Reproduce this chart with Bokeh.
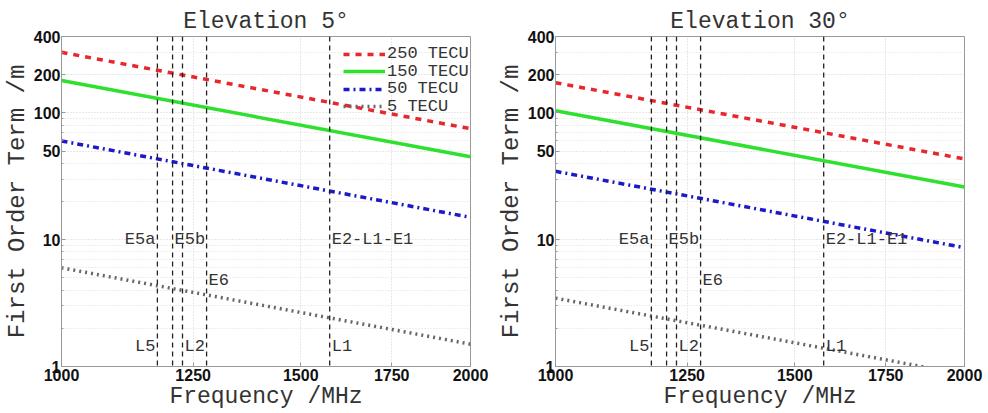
from bokeh.plotting import figure
from bokeh.layouts import row
from bokeh.models import FixedTicker, Span, Label, Legend, LegendItem
from bokeh.embed import file_html
from bokeh.resources import INLINE

# ---- data ----
freq_mhz = [1000, 2000]
series_labels = ["250 TECU", "150 TECU", "50 TECU", "5 TECU"]
el5_250 = [300, 75]
el5_150 = [180, 45]
el5_50 = [60, 15]
el5_5 = [6.0, 1.5]
el30_250 = [173, 43.3]
el30_150 = [104, 26.0]
el30_50 = [34.6, 8.65]
el30_5 = [3.46, 0.865]

band_freqs = [1176.45, 1207.14, 1227.60, 1278.75, 1575.42]
ann_text = ["E5a", "E5b", "E6", "E2-L1-E1", "L5", "L2", "L1"]
ann_freq = [1176.45, 1207.14, 1278.75, 1575.42, 1176.45, 1227.60, 1575.42]
ann_y = [10, 10, 4.8, 10, 1.45, 1.45, 1.45]
ann_side = ["left", "right", "right", "right", "left", "right", "right"]

x_ticks = [1000, 1250, 1500, 1750, 2000]
y_ticks = [1, 10, 50, 100, 200, 400]
y_minor = [2, 3, 4, 5, 6, 7, 8, 9, 20, 30, 40, 60, 70, 80, 90, 300]

colors = ["#e8262e", "#2fe02f", "#1a1ac8", "#666666"]
dashes = ["dashed", "solid", "dashdot", "dotted"]
widths = [3.5, 3.5, 3.5, 3.5]

MONO = "Liberation Mono"
SANS = "Liberation Sans"
FH = 330


def make(title, series, left_border, right_border, legend):
    p = figure(x_axis_type="log", y_axis_type="log",
               x_range=(1000, 2000), y_range=(1, 400),
               frame_width=409, frame_height=FH,
               min_border_left=left_border, min_border_right=right_border,
               min_border_top=36, min_border_bottom=0,
               output_backend="svg", toolbar_location=None, title=title)
    p.title.text_font = MONO
    p.title.text_font_size = "23px"
    p.title.text_font_style = "normal"
    p.title.align = "center"
    p.title.text_color = "#333333"
    p.title.standoff = 4

    p.xaxis.ticker = FixedTicker(ticks=x_ticks, minor_ticks=[])
    p.yaxis.ticker = FixedTicker(ticks=y_ticks, minor_ticks=y_minor)
    p.xaxis.major_label_overrides = {t: str(t) for t in x_ticks}
    p.yaxis.major_label_overrides = {t: str(t) for t in y_ticks}
    for ax in (p.xaxis, p.yaxis):
        ax.major_label_text_font = SANS
        ax.major_label_text_font_style = "bold"
        ax.major_label_text_font_size = "16px"
        ax.major_label_text_color = "#111111"
        ax.axis_label_text_font = MONO
        ax.axis_label_text_font_style = "normal"
        ax.axis_label_text_color = "#333333"
        ax.major_tick_in = 4
        ax.major_tick_out = 0
        ax.minor_tick_in = 2
        ax.minor_tick_out = 0
        ax.axis_line_color = "#999999"
        ax.major_tick_line_color = "#999999"
        ax.minor_tick_line_color = "#999999"
        ax.axis_label_standoff = 0
    p.xaxis.major_label_standoff = 2
    p.yaxis.major_label_standoff = 1
    p.xaxis.axis_label_text_font_size = "23px"
    p.yaxis.axis_label_text_font_size = "24px"
    p.xaxis.axis_label = "Frequency /MHz"
    p.yaxis.axis_label = "First Order Term /m"

    p.xgrid.grid_line_color = "#d0d0d0"
    p.xgrid.grid_line_dash = "1 2"
    p.ygrid.grid_line_color = "#d0d0d0"
    p.ygrid.grid_line_dash = "1 2"
    p.ygrid.minor_grid_line_color = "#dcdcdc"
    p.ygrid.minor_grid_line_dash = "1 2"
    p.outline_line_color = "#999999"

    for f in band_freqs:
        p.add_layout(Span(location=f, dimension="height", line_color="#222222",
                          line_dash="5 4", line_width=1.3))

    renderers = []
    for ys, c, d, w in zip(series, colors, dashes, widths):
        r = p.line(freq_mhz, ys, line_color=c, line_dash=d, line_width=w)
        renderers.append(r)

    for t, f, yv, side in zip(ann_text, ann_freq, ann_y, ann_side):
        p.add_layout(Label(x=f, y=yv, text=t, text_font=MONO, text_font_size="17px",
                           text_color="#333333", text_baseline="middle",
                           text_align="right" if side == "left" else "left",
                           x_offset=-2 if side == "left" else 2))

    if legend:
        # one single-item legend per row, so that the row pitch matches the reference
        for i, (l, r) in enumerate(zip(series_labels, renderers)):
            lg = Legend(items=[LegendItem(label=l, renderers=[r])],
                        location=(282, FH - 27 - 17.6 * i),
                        glyph_width=42, glyph_height=16,
                        label_text_font=MONO, label_text_font_size="17px",
                        label_text_color="#333333", label_height=16,
                        spacing=0, padding=0, margin=0, label_standoff=2,
                        border_line_alpha=0, background_fill_alpha=0)
            p.add_layout(lg)
    return p


p1 = make("Elevation 5°", [el5_250, el5_150, el5_50, el5_5], 56, 24, True)
p2 = make("Elevation 30°", [el30_250, el30_150, el30_50, el30_5], 56, 20, False)
layout = row(p1, p2)
open("out.html", "w").write(file_html(layout, INLINE))
